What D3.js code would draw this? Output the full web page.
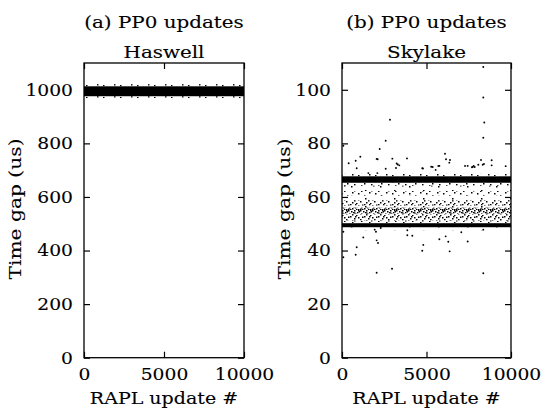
<!DOCTYPE html>
<html>
<head>
<meta charset="utf-8">
<script src="https://cdn.jsdelivr.net/npm/d3@7"></script>
<style>
  body { margin: 0; background: #fff; }
  svg { display: block; }
  text { font-family: "DejaVu Serif", serif; font-size: 17px; fill: #000; stroke: #000; stroke-width: 0.12; }
  .tick line { stroke: #000; stroke-width: 1.2; }
</style>
</head>
<body>
<script>
const WIDTH = 542;
const HEIGHT = 410;

// x axis shared by both panels
var xTicks = [0, 5000, 10000];

// (a) Haswell
var haswellTicks = [0, 200, 400, 600, 800, 1000];
var haswellSolid = [[976, 1013]];
var haswellSpread = [[969, 976], [1013, 1021]];

// (b) Skylake
var skylakeTicks = [0, 20, 40, 60, 80, 100];
var skylakeSolid = [[65.3, 67.7], [48.7, 50.2]];
var skylakeDense = [[53.8, 56.0]];
var skylakeMedium = [[56.8, 58.8], [51.2, 53.6]];
var skylakeSparse = [[60.5, 62.2], [50.2, 51.2], [64.2, 65.3], [67.7, 68.6]];
var skylakeRare = [[58.8, 60.5], [62.2, 64.2], [47.6, 48.7], [56.0, 56.8]];
var skylakeOutX = [8361, 8361, 8420, 8361, 2840, 2585, 80, 2230, 810, 1085, 2050, 2980, 3235, 3390,
    3845, 6095, 6155, 6390, 6350, 5760, 5365, 8855, 8855, 8400, 9685, 7850, 7730, 870, 2585, 3195,
    4790, 2110, 3300, 4750, 5280, 5540, 5700, 7280, 7435, 7690, 7790, 8065, 8225, 8325, 395, 1560, 2090,
    80, 1260, 870, 810, 80, 1935, 2010, 2290, 2050, 2130, 2050, 2960, 3865, 3865, 4160, 4810, 4750,
    5760, 6135, 6290, 6370, 7060, 7435, 8360, 8360];
var skylakeOutY = [108.5, 97.1, 87.8, 82.1, 88.8, 81.0, 79.1, 77.9, 73.5, 75.0, 74.2, 74.3, 72.5, 71.8,
    74.4, 76.1, 74.1, 73.8, 72.8, 71.6, 71.2, 73.7, 71.8, 72.3, 71.5, 71.2, 71.2, 70.7, 70.5, 70.8,
    70.6, 74.1, 72.1, 70.7, 71.3, 70.1, 71.6, 71.6, 71.6, 71.1, 71.6, 72.0, 73.8, 72.0, 72.6, 68.9, 68.9,
    47.0, 44.9, 41.2, 38.4, 37.5, 47.8, 47.0, 48.4, 43.8, 42.8, 31.7, 33.2, 47.6, 45.7, 45.5, 42.1, 39.9,
    44.2, 45.3, 43.3, 39.7, 46.8, 43.4, 47.8, 31.5];

// scatter textures used to paint the dense regions of the point clouds
var patterns = {
    dense: { w: 12, h: 6, dots: [[0,0],[3,1],[6,0],[9,2],[1,3],[4,4],[7,3],[10,5],[2,5],[5,2],[8,5],[11,1],[0,4.5],[6,2.5],[10,0]] },
    medium: { w: 14, h: 6, dots: [[0,0],[4,2],[8,1],[2,4],[6,5],[10,3],[12,0.5],[5,0]] },
    sparse: { w: 17, h: 6, dots: [[1,1],[7,3],[12,0],[4,5],[14,4]] },
    rare: { w: 29, h: 8, dots: [[3,2],[17,6],[25,1]] }
};

var svg = d3.select('body').append('svg')
    .attr('width', WIDTH)
    .attr('height', HEIGHT);

var defs = svg.append('defs');
Object.keys(patterns).forEach(function (k) {
    var p = patterns[k];
    var pat = defs.append('pattern')
        .attr('id', 'pat-' + k)
        .attr('patternUnits', 'userSpaceOnUse')
        .attr('width', p.w)
        .attr('height', p.h);
    pat.selectAll('rect').data(p.dots).enter().append('rect')
        .attr('x', function (d) { return d[0]; })
        .attr('y', function (d) { return d[1]; })
        .attr('width', 1.5)
        .attr('height', 1.5)
        .attr('fill', '#000');
});

function stretchText(g, x, y, txt, anchor, sx, rotate) {
    return g.append('text')
        .attr('transform', 'translate(' + x + ',' + y + ')' + (rotate ? ' rotate(-90)' : '') + ' scale(' + sx + ',1)')
        .attr('text-anchor', anchor)
        .text(txt);
}

var drawPanel = function (opt) {
    var xScale = d3.scaleLinear().domain([0, 10000]).range([opt.left, opt.right]);
    var yScale = d3.scaleLinear().domain([0, opt.ymax]).range([357.7, 63]);
    var g = svg.append('g');

    // bands of points
    function bands(list, fill) {
        g.selectAll(null).data(list).enter().append('rect')
            .attr('x', xScale(0))
            .attr('width', xScale(10000) - xScale(0))
            .attr('y', function (d) { return yScale(d[1]); })
            .attr('height', function (d) { return yScale(d[0]) - yScale(d[1]); })
            .attr('fill', fill);
    }
    bands(opt.rare || [], 'url(#pat-rare)');
    bands(opt.sparse || [], 'url(#pat-sparse)');
    bands(opt.medium || [], 'url(#pat-medium)');
    bands(opt.dense || [], 'url(#pat-dense)');
    bands(opt.solid, '#000');

    if (opt.outX) {
        g.selectAll('circle').data(opt.outX).enter().append('circle')
            .attr('cx', function (d) { return xScale(d); })
            .attr('cy', function (d, i) { return yScale(opt.outY[i]); })
            .attr('r', 0.95)
            .attr('fill', '#000');
    }

    // axes, ticks pointing inward on all four sides
    var fmt = d3.format('d');
    var yAxis = g.append('g')
        .attr('transform', 'translate(' + opt.left + ',0)')
        .call(d3.axisLeft(yScale).tickValues(opt.yTicks).tickFormat(fmt).tickSize(-6).tickSizeOuter(0).tickPadding(11));
    g.append('g')
        .attr('transform', 'translate(' + opt.right + ',0)')
        .call(d3.axisRight(yScale).tickValues(opt.yTicks).tickSize(-6).tickSizeOuter(0).tickFormat(''));
    var xAxis = g.append('g')
        .attr('transform', 'translate(0,357.7)')
        .call(d3.axisBottom(xScale).tickValues(xTicks).tickFormat(fmt).tickSize(-6).tickSizeOuter(0).tickPadding(10));
    g.append('g')
        .attr('transform', 'translate(0,63)')
        .call(d3.axisTop(xScale).tickValues(xTicks).tickSize(-6).tickSizeOuter(0).tickFormat(''));
    g.selectAll('.domain').remove();
    g.selectAll('.tick text').attr('font-size', null).attr('font-family', null);

    yAxis.selectAll('.tick text').each(function () {
        var t = d3.select(this);
        var dx = +t.attr('x');
        t.attr('x', 0).attr('transform', 'translate(' + dx + ',0) scale(1.1,1)');
    });
    xAxis.selectAll('.tick text').each(function () {
        var t = d3.select(this);
        var ty = +t.attr('y');
        t.attr('y', 0).attr('transform', 'translate(0,' + ty + ') scale(1.1,1)');
    });

    g.append('rect')
        .attr('x', opt.left)
        .attr('y', 63)
        .attr('width', opt.right - opt.left)
        .attr('height', 357.7 - 63)
        .attr('fill', 'none')
        .attr('stroke', '#000')
        .attr('stroke-width', 1.3);

    var cx = (opt.left + opt.right) / 2;
    stretchText(g, cx, 28, opt.title1, 'middle', 1.17);
    stretchText(g, cx, 58, opt.title2, 'middle', 1.17);
    stretchText(g, cx, 404, 'RAPL update #', 'middle', 1.12);
    stretchText(g, opt.ylabelX, 209, 'Time gap (us)', 'middle', 1.19, true);
};

drawPanel({
    left: 84, right: 244, ymax: 1100, yTicks: haswellTicks,
    solid: haswellSolid, sparse: haswellSpread,
    title1: '(a) PP0 updates', title2: 'Haswell', ylabelX: 21
});
drawPanel({
    left: 342, right: 511, ymax: 110, yTicks: skylakeTicks,
    solid: skylakeSolid, dense: skylakeDense, medium: skylakeMedium,
    sparse: skylakeSparse, rare: skylakeRare,
    outX: skylakeOutX, outY: skylakeOutY,
    title1: '(b) PP0 updates', title2: 'Skylake', ylabelX: 290
});
</script>
</body>
</html>
